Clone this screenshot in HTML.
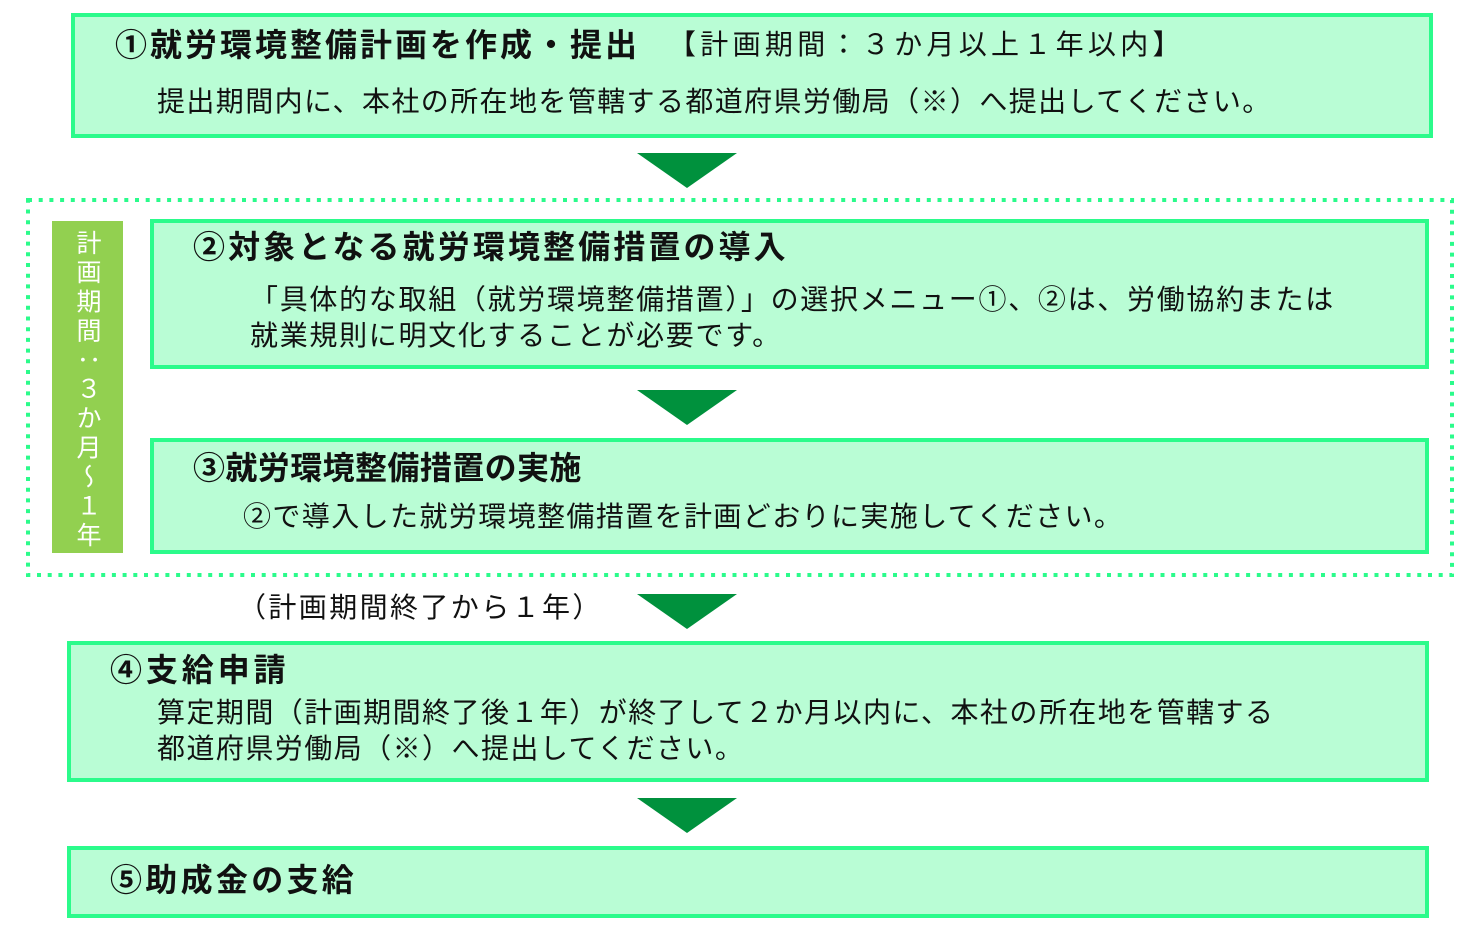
<!DOCTYPE html>
<html><head><meta charset="utf-8"><style>
body{margin:0;width:1483px;height:929px;background:#fff;position:relative;overflow:hidden;font-family:"Liberation Sans","Noto Sans CJK JP",sans-serif;color:#111}
.box{position:absolute;box-sizing:border-box;background:#b9fdd5;border:4px solid #2bfb8b}
.t{position:absolute;white-space:nowrap;line-height:1}
.h{font-size:32px;font-weight:bold;letter-spacing:3px}
.b{font-size:28px;letter-spacing:1.4px}
.arr{position:absolute;width:0;height:0;border-left:50px solid transparent;border-right:50px solid transparent;border-top:35px solid #00913d}
</style></head><body>
<svg style="position:absolute;left:0;top:0" width="1483" height="929"><rect x="28" y="200" width="1424" height="375" fill="none" stroke="#2bfb8b" stroke-width="4" stroke-dasharray="4 6.7"/></svg>
<div class="box" style="left:71px;top:13px;width:1362px;height:125px"></div>
<div class="t h" style="left:115px;top:29px">①就労環境整備計画を作成・提出</div>
<div class="t" style="left:668px;top:31px;font-size:28px;letter-spacing:4.3px">【計画期間：３か月以上１年以内】</div>
<div class="t b" style="left:157px;top:88px;letter-spacing:1.4px">提出期間内に、本社の所在地を管轄する都道府県労働局（※）へ提出してください。</div>
<div class="arr" style="left:637px;top:153px"></div>
<div style="position:absolute;left:52px;top:221px;width:71px;height:332px;background:#92d050"></div>
<div style="position:absolute;left:72px;top:230px;writing-mode:vertical-rl;color:#fff;font-size:25px;letter-spacing:4.2px;line-height:30px;white-space:nowrap">計画期間：３か月～１年</div>
<div class="box" style="left:150px;top:219px;width:1279px;height:150px"></div>
<div class="t h" style="left:193px;top:231px;letter-spacing:3.1px">②対象となる就労環境整備措置の導入</div>
<div class="t b" style="left:250px;top:286px;letter-spacing:1.7px">「具体的な取組（就労環境整備措置）」の選択メニュー①、②は、労働協約または</div>
<div class="t b" style="left:250px;top:322px;letter-spacing:1.7px">就業規則に明文化することが必要です。</div>
<div class="arr" style="left:637px;top:390px"></div>
<div class="box" style="left:150px;top:438px;width:1279px;height:116px"></div>
<div class="t h" style="left:193px;top:452px;letter-spacing:0.4px">③就労環境整備措置の実施</div>
<div class="t b" style="left:243px;top:503px;letter-spacing:1.4px">②で導入した就労環境整備措置を計画どおりに実施してください。</div>
<div class="t b" style="left:238px;top:594px;letter-spacing:2.4px">（計画期間終了から１年）</div>
<div class="arr" style="left:637px;top:594px"></div>
<div class="box" style="left:67px;top:641px;width:1362px;height:141px"></div>
<div class="t h" style="left:110px;top:654px;letter-spacing:3.9px">④支給申請</div>
<div class="t b" style="left:157px;top:699px;letter-spacing:1.45px">算定期間（計画期間終了後１年）が終了して２か月以内に、本社の所在地を管轄する</div>
<div class="t b" style="left:157px;top:735px;letter-spacing:1.45px">都道府県労働局（※）へ提出してください。</div>
<div class="arr" style="left:637px;top:798px"></div>
<div class="box" style="left:67px;top:846px;width:1362px;height:72px"></div>
<div class="t h" style="left:110px;top:864px;letter-spacing:3.3px">⑤助成金の支給</div>
</body></html>
